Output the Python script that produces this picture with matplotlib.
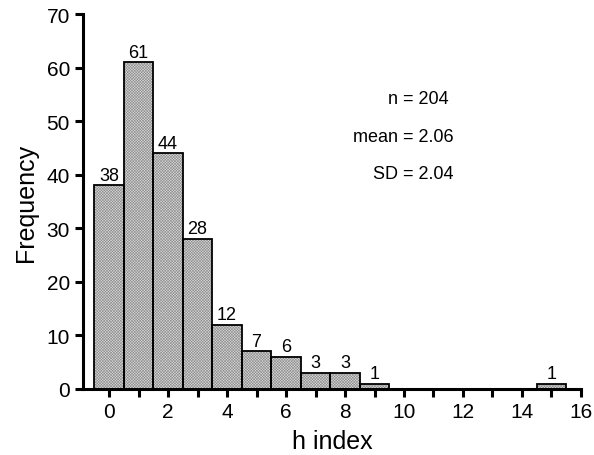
import numpy as np
import matplotlib.pyplot as plt
from matplotlib.ticker import MultipleLocator

plt.rcParams['font.family'] = ['Liberation Sans', 'DejaVu Sans']
plt.rcParams['hatch.linewidth'] = 0.4

# h index values and their frequencies
h_index = list(range(0, 16))
freq = [38, 61, 44, 28, 12, 7, 6, 3, 3, 1, 0, 0, 0, 0, 0, 1]
stats_lines = ["n = 204", "mean = 2.06", "SD = 2.04"]

fig = plt.figure(figsize=(5.94, 4.56), dpi=100)
ax = fig.add_axes([0.140, 0.145, 0.838, 0.822])

shown = [i for i, f in enumerate(freq) if f > 0]
xs = [h_index[i] for i in shown]
ys = [freq[i] for i in shown]

# fine cross-hatch fill first, then the black outline on top
ax.bar(xs, ys, width=1.0, color='#dadada', edgecolor='#8c8c8c',
       hatch='x' * 12, linewidth=0)
ax.bar(xs, ys, width=1.0, fill=False, edgecolor='black', linewidth=1.3)

for x, y in zip(xs, ys):
    ax.text(x, y + 0.3, str(y), ha='center', va='bottom', fontsize=13)

ax.set_xlim(-0.88, 16)
ax.set_ylim(0, 70)
ax.xaxis.set_major_locator(MultipleLocator(2))
ax.xaxis.set_minor_locator(MultipleLocator(1))
ax.yaxis.set_major_locator(MultipleLocator(10))

for s in ['top', 'right']:
    ax.spines[s].set_visible(False)
for s in ['left', 'bottom']:
    ax.spines[s].set_linewidth(2.2)

ax.tick_params(which='major', direction='out', length=6, width=2.2, labelsize=15)
ax.tick_params(which='minor', direction='out', length=6, width=2.2)

ax.set_xlabel("h index", fontsize=18, labelpad=6)
ax.set_ylabel("Frequency", fontsize=18, labelpad=6)

# summary numbers, right-aligned
ax.text(11.52, 54.3, stats_lines[0], ha='right', va='center', fontsize=13)
ax.text(11.69, 47.2, stats_lines[1], ha='right', va='center', fontsize=13)
ax.text(11.69, 40.3, stats_lines[2], ha='right', va='center', fontsize=13)

fig.savefig("out.png", dpi=100)
